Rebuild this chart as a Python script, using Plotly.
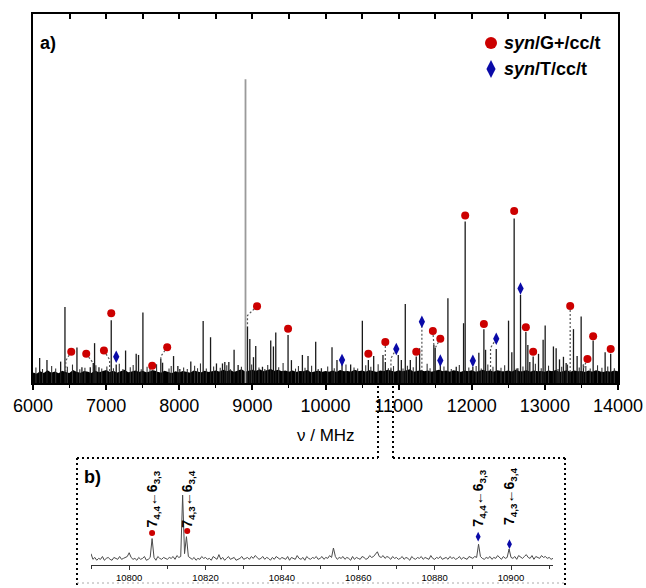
import plotly.graph_objects as go

W, H = 646, 588

# ---------------- main spectrum (a) ----------------
line_freq = [6091, 6191, 6378, 6437, 6447, 6601, 6669, 6783, 6824, 6842, 6902, 7048, 7070, 7138,
             7266, 7411, 7443, 7503, 7630, 7748, 7772, 7922, 7981, 8008, 8158, 8327, 8428, 8509,
             8591, 8623, 8678, 8750, 8805, 8933, 8965, 9015, 9046, 9138, 9251, 9288, 9320, 9488,
             9534, 9684, 9761, 9866, 9944, 10089, 10157, 10226, 10344, 10504, 10586, 10659, 10786,
             10818, 10895, 10995, 11037, 11091, 11160, 11241, 11287, 11318, 11482, 11500, 11570,
             11674, 11788, 11888, 11910, 12015, 12097, 12166, 12189, 12257, 12335, 12503, 12548,
             12580, 12630, 12667, 12740, 12767, 12794, 12840, 12913, 12976, 13004, 13117, 13154,
             13200, 13254, 13291, 13346, 13391, 13441, 13496, 13527, 13660, 13824, 13900]
line_int = [6.8, 6.2, 5.8, 20.6, 2.5, 9.6, 4.3, 4.3, 5.4, 10.8, 4.3, 3.0, 17.0, 5.0,
            8.8, 7.9, 7.6, 19.1, 3.5, 6.5, 5.5, 7.3, 4.6, 3.8, 5.8, 16.8, 12.4, 5.3,
            5.3, 5.7, 5.7, 9.0, 4.9, 15.3, 11.9, 7.0, 10.0, 4.4, 11.5, 9.9, 13.7, 13.0,
            6.2, 7.6, 7.3, 11.2, 4.0, 9.7, 6.2, 5.3, 5.0, 16.9, 6.2, 7.3, 7.6,
            5.7, 4.0, 7.6, 6.2, 21.4, 6.2, 7.2, 9.4, 3.5, 10.3, 9.5, 5.3,
            23.0, 4.4, 16.2, 43.8, 4.4, 8.2, 14.6, 9.0, 3.5, 9.2, 16.9, 8.3,
            44.6, 4.0, 23.9, 13.8, 10.3, 5.7, 7.2, 7.9, 11.7, 15.6, 9.9, 9.4,
            6.4, 7.1, 5.4, 3.0, 14.6, 7.3, 18.0, 5.0, 11.5, 8.3, 7.9]

strong_freq = [8906]
strong_int = [82.3]

weak_freq = [6040, 6130, 6255, 6310, 6470, 6540, 6640, 6710, 6860, 6940, 7010, 7100, 7180, 7230,
             7330, 7370, 7480, 7560, 7600, 7690, 7860, 7890, 8060, 8110, 8210, 8250, 8290, 8370,
             8470, 8560, 8650, 8700, 8850, 8990, 9090, 9170, 9210, 9360, 9420, 9590, 9630, 9720,
             9810, 9900, 10030, 10120, 10280, 10390, 10440, 10550, 10620, 10720, 10860, 10930,
             11060, 11120, 11200, 11390, 11430, 11620, 11720, 11830, 11960, 12060, 12130, 12220,
             12290, 12400, 12450, 12610, 12700, 12870, 12950, 13050, 13180, 13230, 13310, 13470,
             13560, 13620, 13720, 13780, 13860, 13950]
weak_int = [4.2, 3.8, 4.6, 3.9, 4.4, 5.0, 3.7, 4.1, 4.8, 3.9, 4.5, 4.0, 5.2, 3.8,
            4.3, 4.9, 3.7, 4.4, 4.0, 5.1, 3.9, 4.6, 4.2, 3.8, 4.7, 4.0, 5.3, 3.9,
            4.5, 4.1, 4.8, 3.7, 4.4, 5.0, 4.2, 3.8, 4.9, 4.3, 5.4, 3.9, 4.6, 4.1,
            4.7, 3.8, 4.5, 4.0, 5.0, 4.2, 3.9, 4.8, 4.4, 5.1, 4.0, 4.6,
            3.9, 4.7, 4.3, 5.2, 4.0, 4.5, 3.8, 4.9, 4.2, 4.6, 3.9, 5.0,
            4.4, 4.1, 4.8, 3.9, 4.5, 5.2, 4.0, 4.7, 3.8, 4.4, 5.0, 4.2,
            4.6, 3.9, 4.8, 4.1, 4.5, 4.0]

noise_start, noise_step = 6000, 50
noise_floor = [
    2.6, 2.2, 2.9, 2.4, 3.1, 2.5, 2.8, 2.3, 3.0, 2.6,
    2.4, 3.2, 2.7, 2.5, 3.0, 2.8, 2.4, 3.1, 2.6, 2.9,
    3.2, 2.7, 3.0, 2.5, 2.9, 3.3, 2.6, 2.8, 3.1, 2.7,
    3.0, 2.6, 2.9, 3.2, 2.8, 2.5, 3.0, 2.7, 2.4, 2.9,
    2.6, 3.0, 2.7, 2.5, 3.1, 2.8, 2.6, 3.0, 2.7, 2.9,
    3.1, 2.8, 3.3, 2.9, 3.2, 2.7, 3.0, 3.4, 2.8, 3.1,
    3.3, 3.0, 3.4, 2.9, 3.2, 3.5, 3.0, 3.3, 2.9, 3.1,
    2.8, 3.1, 2.7, 3.0, 2.9, 3.2, 2.6, 2.9, 3.1, 2.7,
    3.0, 2.8, 3.1, 2.7, 3.2, 2.9, 3.0, 2.8, 3.3, 2.9,
    3.1, 2.8, 3.2, 3.0, 2.7, 3.1, 2.9, 3.3, 3.0, 2.8,
    3.2, 2.9, 3.1, 3.4, 2.8, 3.0, 3.2, 2.9, 3.1, 2.8,
    3.0, 3.3, 2.9, 3.1, 2.8, 3.2, 3.0, 2.7, 3.1, 2.9,
    3.2, 2.8, 3.0, 3.3, 2.9, 3.1, 2.8, 3.2, 3.0, 2.9,
    3.1, 2.8, 3.3, 2.9, 3.0, 3.2, 2.8, 3.1, 2.9, 3.0,
    2.8, 3.1, 2.9, 3.2, 2.7, 3.0, 3.2, 2.8, 3.1, 2.9,
    3.0, 2.7, 3.1, 2.8, 3.2, 2.9, 2.7, 3.0, 2.8, 3.1,
    2.9]

# assignments: marker position, and (optional) line it is connected to
gplus_freq = [6523, 6728, 6970, 7070, 7630, 7835, 9064, 9488, 10586, 10818, 11241, 11468, 11570,
              11910, 12166, 12580, 12740, 12840, 13346, 13582, 13660, 13900]
gplus_int = [8.5, 7.9, 8.8, 18.9, 4.7, 9.7, 20.8, 14.7, 7.9, 11.1, 8.5, 14.1, 12.0,
             45.4, 16.0, 46.6, 15.1, 8.5, 20.9, 6.5, 12.7, 9.2]
gplus_link_freq = [6447, 6824, 7048, None, None, 7748, 8933, None, None, 10818, None, 11482, 11500,
                   None, None, None, None, None, 13346, 13527, None, None]
gplus_link_int = [2.5, 5.4, 3.0, None, None, 6.5, 15.3, None, None, 5.7, None, 10.3, 9.5,
                  None, None, None, None, None, 3.0, 5.0, None, None]

t_freq = [7138, 10226, 10968, 11318, 11570, 12015, 12335, 12667]
t_int = [7.1, 6.2, 9.2, 16.6, 6.1, 6.0, 12.0, 25.6]
t_link_freq = [None, None, 10895, 11318, None, None, 12257, None]
t_link_int = [None, None, 4.0, 3.5, None, None, 3.5, None]

x_ticks = [6000, 7000, 8000, 9000, 10000, 11000, 12000, 13000, 14000]

# ---------------- inset (b) ----------------
inset_start, inset_step = 10790, 0.5
inset_int = [
    12, 6, 8, 5, 7, 6, 9, 5, 7, 8, 6, 5, 8, 7, 6, 9, 6, 7, 8, 9,
    13, 8, 6, 7, 5, 8, 6, 7, 9, 5, 6, 8, 28, 8, 5, 9, 7, 6, 8, 7,
    6, 8, 7, 9, 6, 10, 8, 9, 74, 12, 30, 9, 7, 6, 8, 5, 7, 6, 9, 7,
    8, 6, 7, 5, 9, 7, 6, 11, 6, 8, 5, 7, 9, 6, 7, 8, 5, 6, 7, 9,
    6, 7, 8, 6, 9, 7, 10, 8, 6, 7, 9, 6, 8, 7, 5, 8, 6, 9, 7, 6,
    8, 7, 6, 9, 5, 8, 7, 6, 10, 7, 6, 8, 5, 9, 7, 6, 8, 7, 9, 6,
    7, 9, 6, 8, 7, 10, 8, 18, 9, 6, 8, 7, 9, 6, 8, 7, 5, 9, 6, 8,
    7, 6, 9, 8, 6, 7, 10, 8, 9, 11, 14, 9, 8, 10, 7, 9, 8, 6, 9, 7,
    8, 6, 7, 9, 6, 8, 7, 5, 9, 7, 6, 8, 7, 9, 6, 8, 7, 6, 10, 7,
    6, 8, 7, 9, 6, 7, 8, 6, 9, 7, 8, 6, 7, 9, 6, 8, 7, 6, 9, 8,
    7, 9, 8, 22, 9, 7, 6, 8, 7, 9, 6, 8, 7, 10, 8, 6, 9, 7, 8, 17,
    8, 7, 9, 6, 10, 8, 7, 9, 11, 8, 7, 10, 6, 9, 8, 7, 10, 8, 9, 7,
    8, 6, 7]
inset_gplus_freq = [10806.0, 10815.2]
inset_gplus_int = [34, 36]
inset_t_freq = [10891.4, 10899.6]
inset_t_int = [30, 22]
inset_labels = ["7<sub>4,4</sub>←6<sub>3,3</sub>", "7<sub>4,3</sub>←6<sub>3,4</sub>",
                "7<sub>4,4</sub>←6<sub>3,3</sub>", "7<sub>4,3</sub>←6<sub>3,4</sub>"]
inset_ticks = [10800, 10820, 10840, 10860, 10880, 10900]

RED = "#cc0000"
BLUE = "#0a0aa8"
FONT = "Arial, Liberation Sans, sans-serif"


def px(x):
    return x / W


def py(y):
    return 1 - y / H


def sticks(freqs, ints):
    xs, ys = [], []
    for f, h in zip(freqs, ints):
        xs += [f, f, None]
        ys += [0, h, None]
    return xs, ys


fig = go.Figure()

noise_x = [noise_start + i * noise_step for i in range(len(noise_floor))]
fig.add_trace(go.Scatter(x=noise_x, y=noise_floor, mode="lines", fill="tozeroy",
                         fillcolor="#000000", line=dict(color="#000000", width=2),
                         hoverinfo="skip", showlegend=False))
wx, wy = sticks(weak_freq, weak_int)
fig.add_trace(go.Scatter(x=wx, y=wy, mode="lines", line=dict(color="#333333", width=1.1),
                         hoverinfo="skip", showlegend=False))
sx, sy = sticks(strong_freq, strong_int)
fig.add_trace(go.Scatter(x=sx, y=sy, mode="lines", line=dict(color="#9a9a9a", width=1.8),
                         hoverinfo="skip", showlegend=False))
lx, ly = sticks(line_freq, line_int)
fig.add_trace(go.Scatter(x=lx, y=ly, mode="lines", line=dict(color="#1a1a1a", width=1.3),
                         hoverinfo="skip", showlegend=False))

cx, cy = [], []
for mf, mi, tf, ti in list(zip(gplus_freq, gplus_int, gplus_link_freq, gplus_link_int)) + \
        list(zip(t_freq, t_int, t_link_freq, t_link_int)):
    if tf is None:
        continue
    cx += [mf, tf, tf, None]
    cy += [mi, mi - 2.5, ti, None]
fig.add_trace(go.Scatter(x=cx, y=cy, mode="lines",
                         line=dict(color="#555555", width=1.2, dash="2px,2px"),
                         hoverinfo="skip", showlegend=False))

fig.add_trace(go.Scatter(x=gplus_freq, y=gplus_int, mode="markers",
                         marker=dict(symbol="circle", size=8, color=RED),
                         hoverinfo="skip", showlegend=False))
fig.add_trace(go.Scatter(x=t_freq, y=t_int, mode="markers",
                         marker=dict(symbol="diamond-tall", size=9, color=BLUE),
                         hoverinfo="skip", showlegend=False))

fig.add_trace(go.Scatter(x=[6000, 14000], y=[0, 0], xaxis="x2", yaxis="y", mode="markers",
                         marker=dict(opacity=0), hoverinfo="skip", showlegend=False))

inset_x = [inset_start + i * inset_step for i in range(len(inset_int))]
fig.add_trace(go.Scatter(x=inset_x, y=inset_int, xaxis="x3", yaxis="y3", mode="lines",
                         line=dict(color="#4a4a4a", width=1), hoverinfo="skip", showlegend=False))
fig.add_trace(go.Scatter(x=inset_gplus_freq, y=inset_gplus_int, xaxis="x3", yaxis="y3",
                         mode="markers", marker=dict(symbol="circle", size=6, color=RED),
                         hoverinfo="skip", showlegend=False))
fig.add_trace(go.Scatter(x=inset_t_freq, y=inset_t_int, xaxis="x3", yaxis="y3",
                         mode="markers", marker=dict(symbol="diamond-tall", size=7, color=BLUE),
                         hoverinfo="skip", showlegend=False))

fig.add_trace(go.Scatter(x=[491], y=[43], xaxis="x4", yaxis="y4", mode="markers",
                         marker=dict(symbol="circle", size=12, color=RED),
                         hoverinfo="skip", showlegend=False))
fig.add_trace(go.Scatter(x=[491], y=[69], xaxis="x4", yaxis="y4", mode="markers",
                         marker=dict(symbol="diamond-tall", size=13, color=BLUE),
                         hoverinfo="skip", showlegend=False))

annotations = [
    dict(text="<b>a)</b>", x=px(38), y=py(43), xref="paper", yref="paper",
         xanchor="left", yanchor="middle", showarrow=False, font=dict(size=18, color="black")),
    dict(text="<b><i>syn</i>/G+/cc/t</b>", x=px(502), y=py(43), xref="paper", yref="paper",
         xanchor="left", yanchor="middle", showarrow=False, font=dict(size=18, color="black")),
    dict(text="<b><i>syn</i>/T/cc/t</b>", x=px(502), y=py(69), xref="paper", yref="paper",
         xanchor="left", yanchor="middle", showarrow=False, font=dict(size=18, color="black")),
    dict(text="ν / MHz", x=px(325.5), y=py(435), xref="paper", yref="paper",
         xanchor="center", yanchor="middle", showarrow=False, font=dict(size=17, color="black")),
    dict(text="<b>b)</b>", x=px(82), y=py(477), xref="paper", yref="paper",
         xanchor="left", yanchor="middle", showarrow=False, font=dict(size=18, color="black")),
]
label_freqs = inset_gplus_freq + inset_t_freq
label_bottoms = [530, 530, 529, 527]
for txt, f, yb in zip(inset_labels, label_freqs, label_bottoms):
    annotations.append(dict(text="<b>" + txt + "</b>", x=f, xref="x3", y=py(yb), yref="paper",
                            xanchor="center", yanchor="bottom", textangle=-90, showarrow=False,
                            font=dict(size=14, color="black")))

dots = dict(color="black", width=2, dash="2px,3px")
shapes = [
    dict(type="line", xref="paper", yref="paper", x0=px(378), x1=px(378), y0=py(386), y1=py(458), line=dots),
    dict(type="line", xref="paper", yref="paper", x0=px(393), x1=px(393), y0=py(386), y1=py(458), line=dots),
    dict(type="line", xref="paper", yref="paper", x0=px(77), x1=px(378), y0=py(458), y1=py(458), line=dots),
    dict(type="line", xref="paper", yref="paper", x0=px(393), x1=px(565), y0=py(458), y1=py(458), line=dots),
    dict(type="line", xref="paper", yref="paper", x0=px(77), x1=px(77), y0=py(458), y1=py(588), line=dots),
    dict(type="line", xref="paper", yref="paper", x0=px(565), x1=px(565), y0=py(458), y1=py(588), line=dots),
    dict(type="line", xref="paper", yref="paper", x0=px(77), x1=px(565), y0=py(583), y1=py(583),
         line=dict(color="#aaaaaa", width=1, dash="2px,3px")),
]

fig.update_layout(
    template="none",
    width=W, height=H, margin=dict(l=0, r=0, t=0, b=0, pad=0, autoexpand=False),
    paper_bgcolor="white", plot_bgcolor="rgba(0,0,0,0)",
    font=dict(family=FONT, color="black"),
    showlegend=False,
    annotations=annotations, shapes=shapes,
    xaxis=dict(domain=[px(33), px(618)], range=[6000, 14000], anchor="y", automargin=False,
               showline=True, linecolor="black", linewidth=2, mirror=True,
               ticks="outside", ticklen=5, tickwidth=1.5, tickcolor="black",
               tickvals=x_ticks, ticktext=[str(v) for v in x_ticks],
               minor=dict(ticks="outside", dtick=500, ticklen=3, tickwidth=1.2, tickcolor="black",
                          showgrid=False),
               tickfont=dict(size=18), showgrid=False, zeroline=False),
    xaxis2=dict(overlaying="x", anchor="y", side="top", range=[6000, 14000], automargin=False,
                ticks="inside", ticklen=5, tickwidth=1.5, tickcolor="black",
                tickvals=[6000 + 500 * i for i in range(17)], showticklabels=False,
                showline=False, showgrid=False, zeroline=False),
    yaxis=dict(domain=[py(383), py(14)], range=[0, 100], showline=True, linecolor="black",
               linewidth=2, mirror=True, ticks="", showticklabels=False, showgrid=False,
               zeroline=False, automargin=False),
    xaxis3=dict(domain=[px(91), px(553)], range=[10790, 10911], anchor="y3", automargin=False,
                showline=True, linecolor="#333333", linewidth=1,
                ticks="outside", ticklen=4, tickwidth=1, tickcolor="#333333",
                tickvals=inset_ticks, ticktext=[str(v) for v in inset_ticks],
                minor=dict(ticks="outside", dtick=10, ticklen=3, tickwidth=1, tickcolor="#333333",
                           showgrid=False),
                tickfont=dict(size=9.5), showgrid=False, zeroline=False),
    yaxis3=dict(domain=[py(565), py(480)], range=[0, 90], anchor="x3", visible=False,
                automargin=False),
    xaxis4=dict(domain=[0, 1], range=[0, W], anchor="y4", visible=False, automargin=False),
    yaxis4=dict(domain=[0, 1], range=[H, 0], anchor="x4", visible=False, automargin=False),
)

fig.write_html("out.html", config={"displayModeBar": False},
               post_script="document.body.style.margin='0px';")
